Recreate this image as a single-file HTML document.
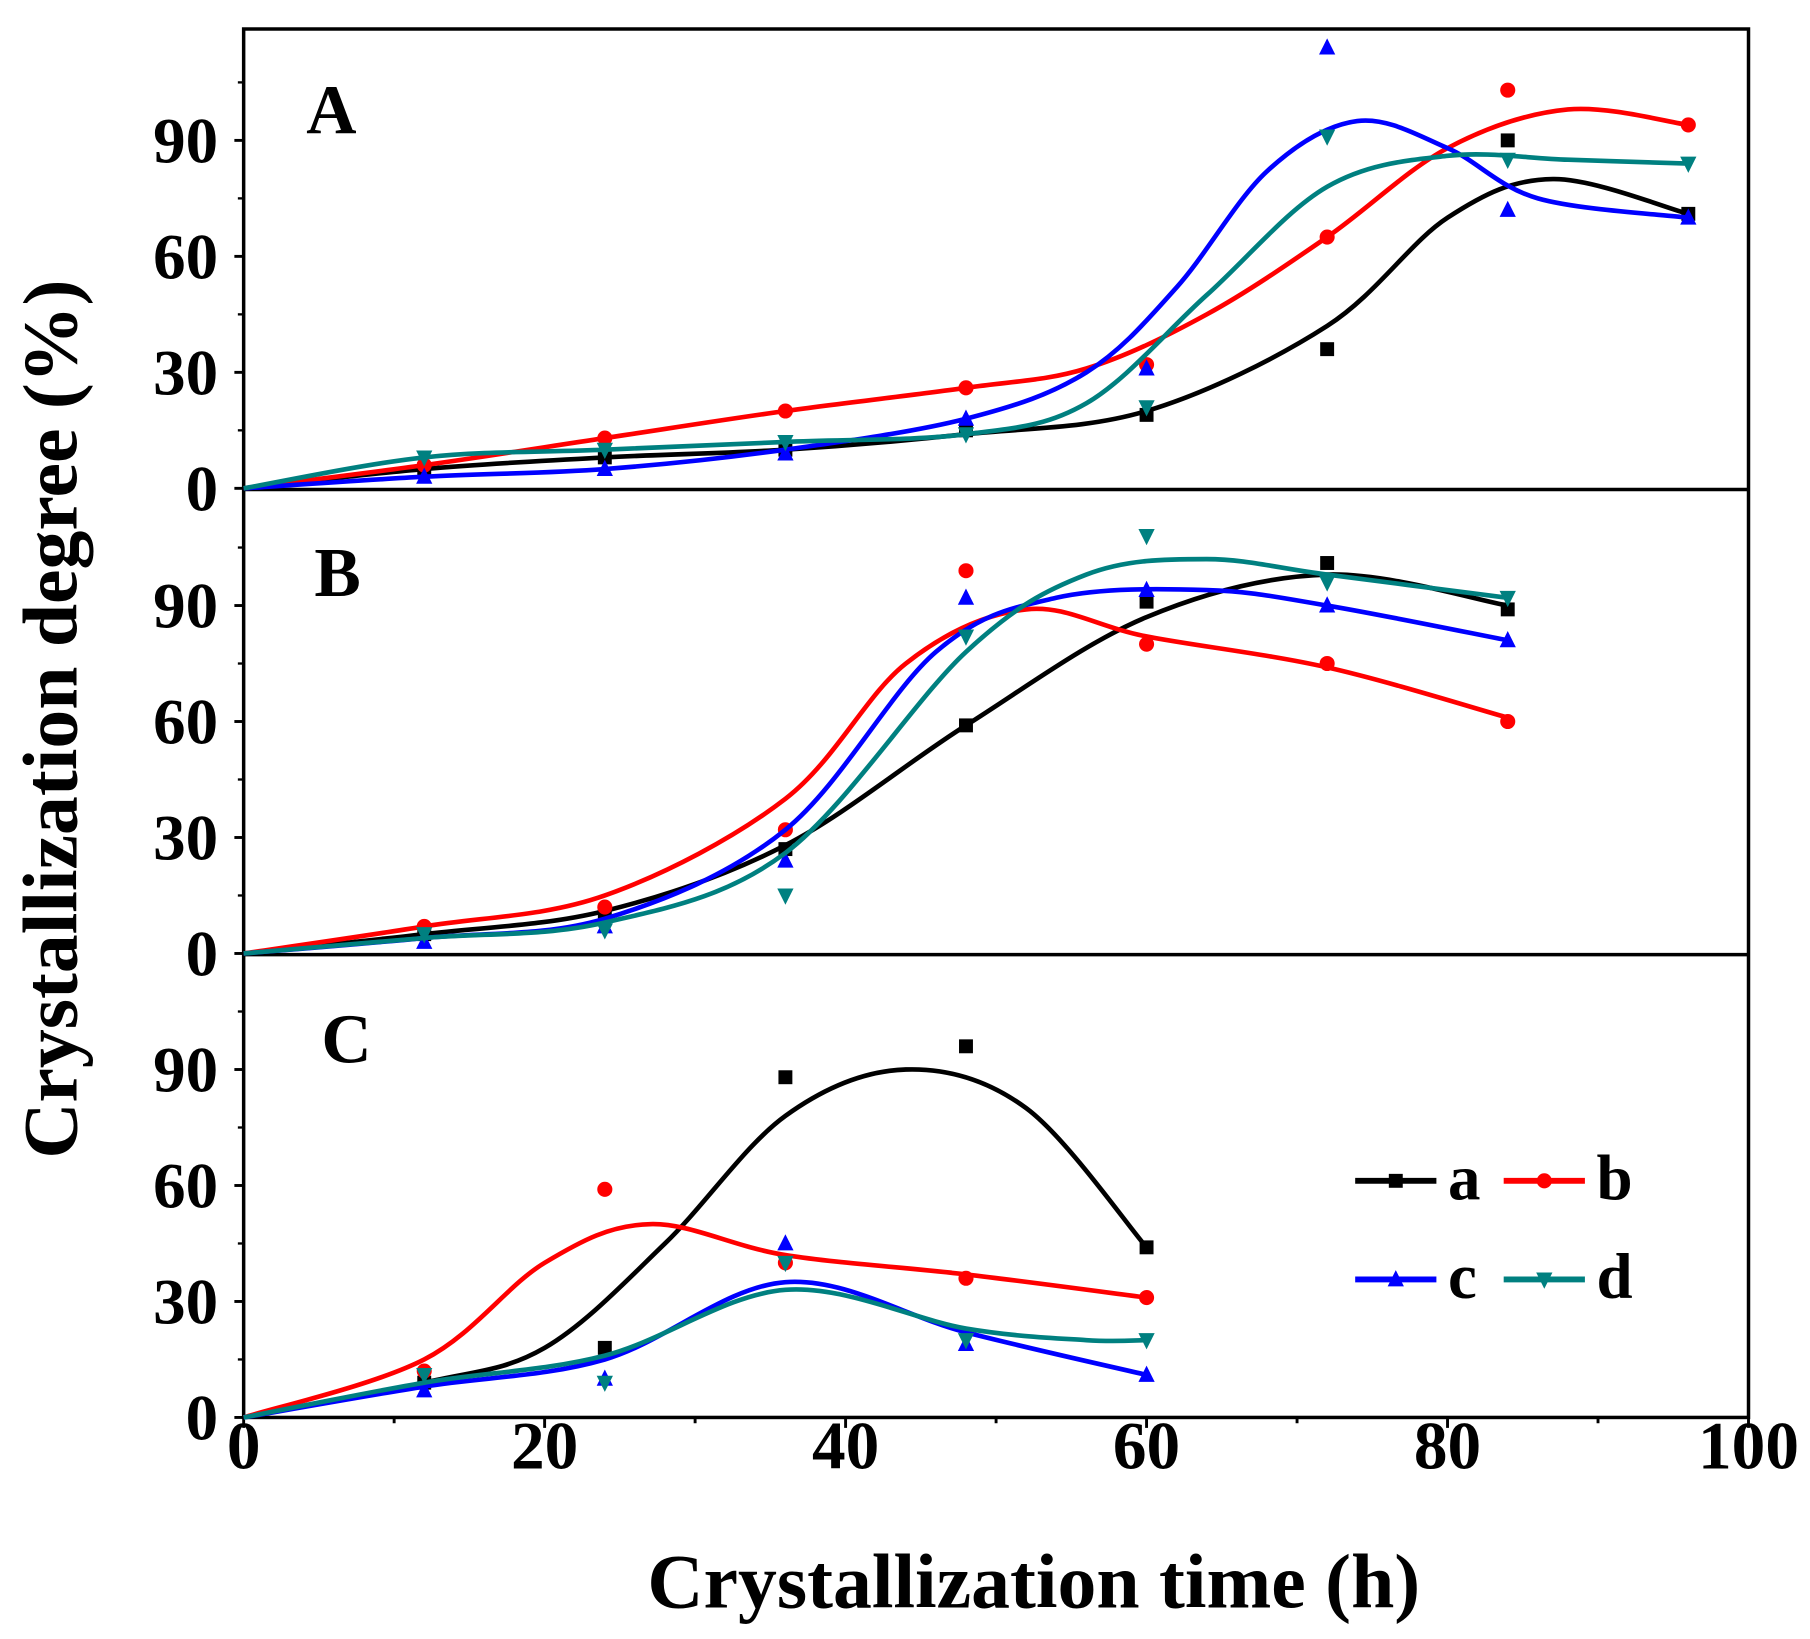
<!DOCTYPE html>
<html><head><meta charset="utf-8"><style>
html,body{margin:0;padding:0;background:#fff;}
svg{display:block;}
text{font-family:"Liberation Serif",serif;font-weight:bold;fill:#000;}
</style></head><body>
<svg id="s" width="1810" height="1639" viewBox="0 0 1560 1413" preserveAspectRatio="none" xmlns="http://www.w3.org/2000/svg">
</svg>
<script>
const S=document.getElementById('s');const NS='http://www.w3.org/2000/svg';
function el(t,a,txt){const e=document.createElementNS(NS,t);for(const k in a)e.setAttribute(k,a[k]);if(txt!==undefined)e.textContent=txt;S.appendChild(e);return e;}
const L=210,R=1507,TOP=25;const zeros=[421,822,1222];const U=3.333;
const X=h=>L+h*(R-L)/100;
el('rect',{x:L,y:TOP,width:R-L,height:zeros[2]-TOP,fill:'none',stroke:'#000','stroke-width':3});
el('line',{x1:L,y1:zeros[0]+1,x2:R,y2:zeros[0]+1,stroke:'#000','stroke-width':3});
el('line',{x1:L,y1:zeros[1]+1,x2:R,y2:zeros[1]+1,stroke:'#000','stroke-width':3});
zeros.forEach(z=>{[0,30,60,90].forEach(v=>{const y=z-v*U;el('line',{x1:L-8,y1:y,x2:L,y2:y,stroke:'#000','stroke-width':2.5});el('text',{x:L-22,y:y+19,'font-size':56,'text-anchor':'end'},v);});
[15,45,75,105].forEach(v=>{const y=z-v*U;el('line',{x1:L-5,y1:y,x2:L,y2:y,stroke:'#000','stroke-width':2});});});
for(let v=0;v<=100;v+=10){const x=X(v);el('line',{x1:x,y1:zeros[2],x2:x,y2:zeros[2]+(v%20?5:9),stroke:'#000','stroke-width':2.5});if(v%20==0)el('text',{x:x,y:zeros[2]+44,'font-size':58,'text-anchor':'middle'},v);}
el('text',{x:891,y:1386,'font-size':67,'text-anchor':'middle'},'Crystallization time (h)');
el('text',{x:0,y:0,'font-size':67,'text-anchor':'middle',transform:'translate(66,620) rotate(-90)'},'Crystallization degree (%)');
el('text',{x:264,y:115,'font-size':60},'A');el('text',{x:271,y:514,'font-size':60},'B');el('text',{x:277,y:916,'font-size':60},'C');
const col={a:'#000',b:'#f00',c:'#00f',d:'#008080'};
function path(pts,z,c){pts=pts.map(p=>[X(p[0]),z-p[1]*U]);let d='M'+pts[0];for(let i=0;i<pts.length-1;i++){const p0=pts[i-1]||pts[i],p1=pts[i],p2=pts[i+1],p3=pts[i+2]||p2;const c1=[p1[0]+(p2[0]-p0[0])/6,p1[1]+(p2[1]-p0[1])/6],c2=[p2[0]-(p3[0]-p1[0])/6,p2[1]-(p3[1]-p1[1])/6];d+=' C'+c1+' '+c2+' '+p2;}el('path',{d:d,fill:'none',stroke:c,'stroke-width':4});}
function mk(k,x,y){const c=col[k];if(k=='a')el('rect',{x:x-6,y:y-6,width:12,height:12,fill:c});else if(k=='b')el('circle',{cx:x,cy:y,r:6.5,fill:c});else if(k=='c')el('polygon',{points:`${x},${y-8} ${x-7},${y+6} ${x+7},${y+6}`,fill:c});else el('polygon',{points:`${x},${y+8} ${x-7},${y-6} ${x+7},${y-6}`,fill:c});}
const D=[
{z:zeros[0],curves:{
a:[[0,0],[12,5],[24,8],[36,10],[48,14],[60,20],[72,42],[80,70],[87,80],[96,71]],
b:[[0,0],[12,6],[24,13],[36,20],[48,26],[56,31],[64,45],[72,65],[80,88],[88,98],[96,94]],
c:[[0,0],[12,3],[24,5],[36,10],[48,18],[56,30],[62,52],[68,82],[74,95],[80,88],[86,75],[96,70]],
d:[[0,0],[12,8],[24,10],[36,12],[48,14],[56,22],[64,50],[72,78],[80,86],[88,85],[96,84]]},
pts:{a:[[12,5],[24,8],[36,10],[48,15],[60,19],[72,36],[84,90],[96,71]],b:[[12,6],[24,13],[36,20],[48,26],[60,32],[72,65],[84,103],[96,94]],c:[[12,3],[24,5],[36,9],[48,18],[60,31],[72,114],[84,72],[96,70]],d:[[12,8],[24,10],[36,12],[48,14],[60,21],[72,91],[84,85],[96,84]]}},
{z:zeros[1],curves:{
a:[[0,0],[12,5],[24,11],[36,28],[48,59],[60,87],[72,98],[84,90]],
b:[[0,0],[12,7],[24,15],[36,40],[44,75],[52,89],[60,82],[72,74],[84,61]],
c:[[0,0],[12,4],[24,9],[36,32],[46,78],[54,92],[64,94],[72,90],[84,81]],
d:[[0,0],[12,4],[24,8],[36,26],[48,78],[56,98],[64,102],[72,98],[84,92]]},
pts:{a:[[12,5],[24,10],[36,27],[48,59],[60,91],[72,101],[84,89]],b:[[12,7],[24,12],[36,32],[48,99],[60,80],[72,75],[84,60]],c:[[12,3],[24,7],[36,24],[48,92],[60,94],[72,90],[84,81]],d:[[12,5],[24,6],[36,15],[48,82],[60,108],[72,96],[84,92]]}},
{z:zeros[2],curves:{
a:[[0,0],[12,9],[20,18],[28,45],[36,78],[44,90],[52,80],[60,44]],
b:[[0,0],[12,15],[20,40],[27,50],[36,42],[48,37],[60,31]],
c:[[0,0],[12,8],[24,15],[36,35],[48,22],[60,11]],
d:[[0,0],[12,9],[24,16],[36,33],[48,23],[56,20],[60,20]]},
pts:{a:[[12,9],[24,18],[36,88],[48,96],[60,44]],b:[[12,12],[24,59],[36,40],[48,36],[60,31]],c:[[12,7],[24,10],[36,45],[48,19],[60,11]],d:[[12,11],[24,9],[36,40],[48,20],[60,20]]}}];
D.forEach(p=>{['a','b','c','d'].forEach(k=>{path(p.curves[k],p.z,col[k]);p.pts[k].forEach(q=>mk(k,X(q[0]),p.z-q[1]*U));});});
[['a',1168,1018],['b',1296,1018],['c',1168,1103],['d',1296,1103]].forEach(([k,x,y])=>{el('line',{x1:x,y1:y,x2:x+70,y2:y,stroke:col[k],'stroke-width':5});mk(k,x+35,y);el('text',{x:x+80,y:y+16,'font-size':56},k);});
</script>
</body></html>
